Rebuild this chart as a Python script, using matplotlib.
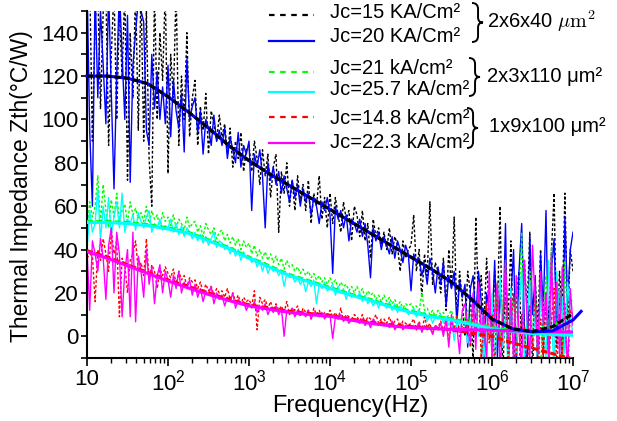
import numpy as np
import matplotlib
matplotlib.use("Agg")
import matplotlib.pyplot as plt
from matplotlib.lines import Line2D
from matplotlib.path import Path
from matplotlib.patches import PathPatch
from matplotlib.ticker import FixedLocator, LogLocator, NullFormatter, MultipleLocator

plt.rcParams['font.family'] = ['Liberation Sans', 'DejaVu Sans']
plt.rcParams['mathtext.fontset'] = 'custom'
plt.rcParams['mathtext.rm'] = 'Liberation Sans'
plt.rcParams['mathtext.it'] = 'Liberation Sans:italic'

# ---------------- data ----------------
freq = np.logspace(1, 7, 181)          # measurement grid (Hz), 30 points per decade

zth_15 = [150, 165, 90, 145, 160, 105, 150, 160, 88, 130,
          160, 100, 150, 120, 160, 72, 140, 110, 160, 95,
          160, 90, 150, 82, 60, 160, 100, 140, 118, 160,
          75, 130, 110, 160, 88, 120, 100, 140, 92, 110,
          118, 88, 106, 95, 112, 84, 104, 98, 90, 102,
          92, 98, 84, 96, 78, 90, 82, 94, 76, 86,
          88, 76, 90, 82, 70, 86, 74, 84, 64, 78,
          84, 48, 76, 66, 80, 60, 72, 58, 74, 62,
          70, 58, 72, 52, 66, 60, 74, 54, 64, 50,
          66, 52, 64, 56, 48, 62, 54, 58, 44, 60,
          56, 46, 58, 44, 52, 36, 54, 46, 50, 42,
          48, 40, 50, 38, 46, 42, 30, 44, 36, 40,
          42, 56, 30, 40, 18, 38, 28, 62, 24, 34,
          30, 20, 36, 12, 40, 22, 55, 8, 30, 16,
          0, 30, 20, -12, 55, 14, 28, 4, 36, 10,
          -5, 30, 12, 60, -20, 25, 8, 44, -15, 18,
          30, -5, 35, 12, 48, -18, 25, 5, 40, -10,
          20, 8, 38, 66, -5, 30, 12, 66, 5, 40,
          30]

zth_20 = [165, 95, 60, 160, 110, 150, 125, 98, 160, 112,
          68, 120, 160, 130, 100, 148, 71, 125, 140, 155,
          150, 145, 95, 88, 130, 105, 122, 100, 115, 98,
          125, 92, 118, 104, 96, 112, 85, 128, 100, 106,
          110, 94, 104, 84, 100, 96, 88, 102, 90, 95,
          88, 96, 82, 92, 86, 80, 94, 78, 88, 84,
          90, 58, 84, 78, 86, 74, 50, 80, 72, 78,
          70, 76, 66, 74, 68, 62, 72, 64, 70, 60,
          68, 62, 66, 56, 64, 60, 52, 62, 58, 64,
          56, 29, 60, 54, 58, 50, 56, 44, 54, 52,
          48, 54, 46, 52, 42, 27, 50, 44, 48, 40,
          46, 42, 38, 46, 36, 44, 40, 34, 42, 38,
          21, 38, 34, 36, 28, 33, 24, 36, 30, 20,
          32, 24, 34, 14, 28, 22, 30, 6, 26, 18,
          24, -5, 22, 28, 8, 30, 16, -15, 20, 12,
          5, 35, -10, 22, 0, 52, -20, 18, 40, -15,
          30, 52, 5, -18, 46, 10, 28, -20, 38, 12,
          58, -10, 30, 45, 0, 22, -20, 55, 15, 40,
          48]

zth_21 = [48, 62, 55, 60, 74, 52, 70, 58, 50, 63,
          55, 66, 53, 58, 61, 52, 62, 56, 59, 54,
          57, 53, 60, 51, 58, 54, 56, 50, 57, 53,
          55, 51, 56, 50, 54, 52, 49, 55, 50, 52,
          53, 48, 51, 46, 52, 49, 47, 50, 45, 48,
          49, 44, 47, 43, 46, 42, 45, 40, 44, 41,
          43, 38, 42, 37, 40, 36, 39, 35, 38, 34,
          37, 33, 36, 31, 35, 32, 33, 30, 32, 29,
          31, 28, 30, 27, 29, 26, 28, 25, 27, 24,
          27, 24, 26, 22, 25, 23, 24, 21, 23, 20,
          23, 20, 22, 18, 21, 19, 20, 17, 19, 16,
          19, 16, 18, 15, 17, 14, 16, 13, 15, 14,
          15, 13, 14, 11, 20, 12, 13, 10, 12, 9,
          12, 10, 11, 8, 10, 12, 7, 9, 6, 10,
          8, 12, -5, 10, 4, 20, -8, 8, 2, 15,
          -10, 6, 25, -3, 12, 35, -15, 5, 18, 0,
          10, 48, -12, 8, 30, -5, 20, 3, -15, 12,
          28, -8, 41, 10, 5, 22, -12, 35, 2, 18,
          15]

zth_25_7 = [40, 58, 48, 52, 68, 44, 60, 50, 64, 47,
            55, 62, 50, 66, 48, 54, 52, 56, 49, 57,
            53, 50, 55, 58, 48, 52, 50, 54, 49, 51,
            50, 54, 48, 52, 47, 51, 46, 50, 48, 45,
            48, 44, 47, 43, 46, 42, 45, 48, 41, 44,
            43, 40, 42, 38, 41, 37, 40, 35, 39, 36,
            37, 34, 36, 32, 35, 30, 34, 29, 32, 30,
            31, 28, 30, 23, 29, 27, 28, 25, 27, 24,
            26, 20.6, 25, 23, 26, 15, 24, 22, 25, 21,
            22, 24, 19, 23, 20, 22, 17, 21, 18, 19,
            18, 20, 16, 19, 15, 17, 14, 17, 13, 16,
            15, 13, 16, 12, 15, 11, 14, 12, 13, 10,
            11, 13, 9, 12, 10, 11, 7, 10, 6, 9,
            8, 10, 6, 9, 5, 8, -2, 7, 4, 6,
            6, -3, 8, 3, 15, 0, 10, -10, 5, 2,
            20, -12, 6, 28, -5, 10, -15, 22, 2, -8,
            15, 30, -12, 8, 25, -5, 12, -15, 20, 5,
            -10, 35, 8, -15, 30, 2, 18, -8, 25, 10,
            0]

zth_14_8 = [36, 38, 37, 16, 40, 35, 45, 38, 30, 49,
            38, 44, 9, 36, 33, 20, 35, 38, 44, 30,
            34, 28, 45, 26, 33, 30, 22, 31, 28, 32,
            29, 27, 31, 24, 30, 26, 28, 23, 27, 25,
            26, 22, 25, 20, 24, 21, 23, 19, 22, 20,
            21, 18, 22, 17, 20, 16, 19, 15, 18, 16,
            17, 14, 21, 3, 18, 15, 17, 13, 16, 12,
            15, 12, 14, 11, 16, 10, 13, 12, 14, 9,
            13, 11, 12, 8, 13, 10, 12, 9, 11, 10,
            12, 9, 11, 8, 13, 7, 10, 9, 8, 10,
            9, 7, 10, 6, 9, 8, 7, 10, 6, 8,
            8, 6, 9, 5, 7, 8, 4, 7, 6, 5,
            6, 8, 3, 7, 2, 9, 4, 6, 1, 5,
            4, 7, 2, 8, -2, 6, 3, 10, 0, 5,
            3, 8, -5, 12, 0, 22, -10, 5, 15, -3,
            10, -15, 23, -5, 8, 18, -12, 4, 20, -8,
            -15, 10, 5, -20, 14, -5, 24, -15, 8, -10,
            18, -12, 6, 22, -15, 10, -8, 15, -18, 12,
            10]

zth_22_3 = [40, 12, 44, 38, 30, 45, 36, 17, 42, 50,
            20, 48, 38, 9, 30, 40, 9, 48, 6.7, 37,
            30, 18, 40, 24, 32, 15, 28, 33, 20, 30,
            26, 18, 28, 22, 30, 20, 25, 22, 26, 19,
            24, 18, 22, 16, 21, 19, 23, 15, 20, 17,
            19, 14, 18, 16, 20, 13, 17, 15, 16, 12,
            15, 13, 16, 11, 14, 12, 15, 10, 13, 11,
            14, 10, 13, 0, 12, 11, 13, 9, 12, 10,
            11, 9, 12, 8, 11, 10, 9, 11, 8, 10,
            10, -1, 9, 8, 10, 7, 9, 6, 8, 7,
            7, 6, 8, 5, 7, 4, 8, 6, 5, 7,
            5, 6, 4, 7, 3, 5, 6, 3, 5, 4,
            4, 5, 3, 6, 2, 5, 3, 4, 1, 5,
            3, 6, 0, 8, -5, 10, 2, 4, -8, 12,
            15, 3, -3, 20, -6, 25, 0, 10, -12, 30,
            -10, 12, 25, -15, 5, 35, -5, 18, -12, 28,
            2, -15, 35, 8, -10, 42, 15, -8, 30, 5,
            20, -12, 38, 0, 25, -8, 32, 10, -15, 22,
            5]

# fitted curves, sampled every quarter decade from 10 Hz to 10 MHz
fit_freq = np.logspace(1, 7, 25)
fit_freq_ext = np.append(fit_freq, 10 ** 7.1)
fit_15 = [120, 120, 119, 116.5, 110.5, 103.5, 96, 88, 81, 75, 69.5, 64, 58.5,
          53, 47.5, 42, 36.5, 31, 25, 17, 8, 3.5, 2.2, 4.5, 10.5]
fit_20 = [120, 120, 119, 116.5, 110.5, 103.5, 96, 88, 81, 75, 69.5, 64, 58.5,
          53, 47.5, 42, 36.5, 31, 25, 17, 8, 3.5, 2, 2.5, 7.5, 11.5]
fit_21 = [53, 53, 52.5, 51.5, 50, 48, 44.5, 41, 36.5, 32.5, 28.5, 25.5, 22.5,
          19.5, 17, 14, 11.5, 9.5, 8, 6, 4, 2.6, 1.8, 1.5, 1.5]
fit_25_7 = [52.5, 52.5, 52, 51, 49.5, 47.5, 44, 40.5, 36, 32, 28, 25, 22,
            19, 16.5, 13.5, 11, 9, 7.5, 5.5, 3.5, 2.2, 1.3, 0.8, 0.5]
fit_14_8 = [39.5, 36.5, 33, 29.5, 26, 23, 20, 17, 14.5, 13, 11.5, 10.5, 9.7,
            8, 6.5, 5.3, 4.5, 3.8, 3, 1.5, 0, -3, -5.5, -8, -10.5]
fit_22_3 = [39, 36, 32.5, 29, 25.5, 22.3, 19.3, 16.5, 14, 12.5, 11, 10, 9.2,
            7.5, 6, 4.8, 4, 3.6, 3.2, 3, 2.8, 2.5, 2.3, 2.1, 2.0]

labels = ["Jc=15 KA/Cm²", "Jc=20 KA/Cm²", "Jc=21 kA/cm²",
          "Jc=25.7 kA/cm²", "Jc=14.8 kA/cm²", "Jc=22.3 kA/cm²"]
groups = ["2x6x40 $\\mu\\mathrm{m}^2$", "2x3x110 μm²", "1x9x100 μm²"]
xtick_vals = [1e1, 1e2, 1e3, 1e4, 1e5, 1e6, 1e7]
xtick_labels = ["10", "$10^2$", "$10^3$", "$10^4$", "$10^5$", "$10^6$", "$10^7$"]

# ---------------- figure ----------------
W, H = 617, 421
fig = plt.figure(figsize=(W / 100, H / 100), dpi=100)
ax = fig.add_axes([87 / W, 1 - 358 / H, (573 - 87) / W, (358 - 11) / H])

def P(x, y):
    return (x / W, 1 - y / H)

series = [
    (zth_15, fit_15, fit_freq, 'black', True),
    (zth_20, fit_20, fit_freq_ext, '#0000ff', False),
    (zth_21, fit_21, fit_freq, '#00ff00', True),
    (zth_25_7, fit_25_7, fit_freq, '#00ffff', False),
    (zth_14_8, fit_14_8, fit_freq, '#ff0000', True),
    (zth_22_3, fit_22_3, fit_freq, '#ff00ff', False),
]

for data, fit, ff, col, dotted in series:
    if dotted:
        ax.plot(freq, data, color=col, lw=1.0, dashes=(2, 1.5), zorder=2)
    else:
        ax.plot(freq, data, color=col, lw=1.0, zorder=2)

for k in [2, 3, 4, 5, 1, 0]:
    data, fit, ff, col, dotted = series[k]
    kw = dict(color=col, lw=2.2, zorder=4)
    if dotted:
        kw['dashes'] = (2, 1)
    ln = ax.plot(ff, fit, **kw)[0]
    if k == 1:
        ln.set_clip_on(False)

ax.set_xscale('log')
ax.set_xlim(10, 1e7)
ax.set_ylim(-10, 150)
ax.spines['top'].set_visible(False)
ax.spines['right'].set_visible(False)
for s in ['left', 'bottom']:
    ax.spines[s].set_linewidth(1.5)

ax.xaxis.set_major_locator(FixedLocator(xtick_vals))
ax.set_xticklabels(xtick_labels)
ax.xaxis.set_minor_locator(LogLocator(base=10, subs=np.arange(2, 10)))
ax.xaxis.set_minor_formatter(NullFormatter())
ax.yaxis.set_major_locator(FixedLocator([0, 20, 40, 60, 80, 100, 120, 140]))
ax.yaxis.set_minor_locator(MultipleLocator(10))
ax.tick_params(axis='x', which='major', direction='out', length=6, width=1.2,
               labelsize=16, pad=2)
ax.tick_params(axis='x', which='minor', direction='out', length=3.5, width=1.0)
ax.tick_params(axis='y', which='both', direction='out', length=4, width=1.2,
               labelsize=16, pad=2)

fig.text(*P(350, 406), "Frequency(Hz)", fontsize=17, ha='center', va='center')
fig.text(*P(22, 186), "Thermal Impedance Zth(°C/W)", fontsize=16.5,
         rotation=90, ha='center', va='center')

# ---------------- legend ----------------
line_y = [15, 40.7, 71.5, 91.7, 117.3, 142.5]
text_base = [17.5, 41.5, 73.5, 95, 124, 148]
cols = ['black', '#0000ff', '#00ff00', '#00ffff', '#ff0000', '#ff00ff']
for i in range(6):
    x0, y0 = P(269, line_y[i])
    x1, _ = P(314, line_y[i])
    kw = dict(color=cols[i], lw=1.6, transform=fig.transFigure)
    if i % 2 == 0:
        kw['dashes'] = (2.5, 2.5)
    fig.add_artist(Line2D([x0, x1], [y0, y0], **kw))
    fig.text(*P(330, text_base[i]), labels[i], fontsize=14.5, ha='left',
             va='baseline')

def brace(x0, top, bot, w):
    m = (top + bot) / 2
    xm = x0 + w * 0.55
    pts = [(x0, top), (xm, top), (xm, top + 6),
           (xm, m - 5), (xm, m), (x0 + w, m),
           (xm, m), (xm, m + 5),
           (xm, bot - 6), (xm, bot), (x0, bot)]
    codes = [Path.MOVETO, Path.CURVE3, Path.CURVE3,
             Path.LINETO, Path.CURVE3, Path.CURVE3,
             Path.CURVE3, Path.CURVE3,
             Path.LINETO, Path.CURVE3, Path.CURVE3]
    verts = [P(x, y) for x, y in pts]
    fig.add_artist(PathPatch(Path(verts, codes), fill=False, lw=1.4,
                             edgecolor='black', transform=fig.transFigure))

brace(472, 3, 42, 11)
brace(469, 58, 96, 11)
brace(467, 108, 148, 11)

fig.text(*P(487, 21), groups[0], fontsize=14.5, ha='left', va='center',
         math_fontfamily='cm')
fig.text(*P(487, 77), groups[1], fontsize=14.5, ha='left', va='center')
fig.text(*P(489, 127), groups[2], fontsize=14.5, ha='left', va='center')

fig.savefig("out.png", dpi=100)
